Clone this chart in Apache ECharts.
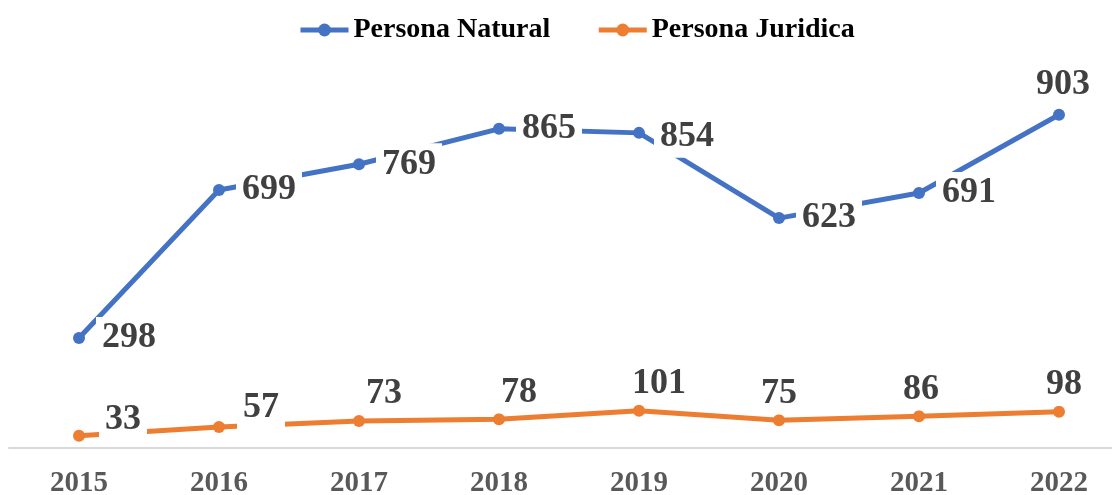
<!DOCTYPE html>
<html>
<head>
<meta charset="utf-8">
<style>html,body{margin:0;padding:0;background:#fff}#c{width:1112px;height:495px}</style>
<script src="https://cdn.jsdelivr.net/npm/echarts@6/dist/echarts.min.js"></script>
</head>
<body>
<div id="c"></div>
<script>
const years = ['2015','2016','2017','2018','2019','2020','2021','2022'];
const naturalName = 'Persona Natural';
const juridicaName = 'Persona Juridica';
const naturalValues = [298, 699, 769, 865, 854, 623, 691, 903];
const juridicaValues = [33, 57, 73, 78, 101, 75, 86, 98];

const FONT = '"Liberation Serif", "Times New Roman", serif';
const labelBase = {
  show: true, fontFamily: FONT, fontWeight: 'bold', fontSize: 36, color: '#404040',
  backgroundColor: '#fff', padding: [3, 6]
};
// label placement per point (style only)
const natLabelPos = [
  {position: 'right', distance: 11}, {position: 'right', distance: 11}, {position: 'right', distance: 11},
  {position: 'right', distance: 11}, {position: 'right', distance: 9, offset: [0, 4]}, {position: 'right', distance: 11},
  {position: 'right', distance: 11}, {position: 'top', distance: 3, offset: [4, 0]}
];
const jurLabelPos = [
  {position: 'right', distance: 4, offset: [10, -16]}, {position: 'top', distance: 0, offset: [42, 8]},
  {position: 'top', distance: 0, offset: [25, 0]}, {position: 'top', distance: 0, offset: [20, 0]},
  {position: 'top', distance: 0, offset: [20, 0]}, {position: 'top', distance: 0, offset: [0, 0]},
  {position: 'top', distance: 0, offset: [2, 0]}, {position: 'top', distance: 0, offset: [5, 0]}
];

function build(vals, pos) {
  return vals.map((v, i) => ({ value: v, label: Object.assign({}, pos[i]) }));
}

const chart = echarts.init(document.getElementById('c'), null, {renderer: 'canvas'});
chart.setOption({
  animation: false,
  color: ['#4472C4', '#ED7D31'],
  legend: {
    top: 11, left: 293, itemWidth: 48, itemHeight: 16, itemGap: 46,
    lineStyle: {width: 5},
    textStyle: {fontFamily: FONT, fontWeight: 'bold', fontSize: 28, color: '#000'},
    data: [naturalName, juridicaName]
  },
  grid: {left: 9, width: 1120, top: 79, bottom: 47, containLabel: false, outerBoundsMode: 'none'},
  xAxis: {
    type: 'category', data: years, boundaryGap: true,
    axisLine: {lineStyle: {color: '#d9d9d9', width: 2}},
    axisTick: {show: false},
    axisLabel: {fontFamily: FONT, fontWeight: 'bold', fontSize: 29, color: '#595959', margin: 21}
  },
  yAxis: {type: 'value', min: 0, max: 1000, show: false, splitLine: {show: false}},
  series: [
    {
      name: naturalName, type: 'line', data: build(naturalValues, natLabelPos),
      symbol: 'circle', symbolSize: 12, lineStyle: {width: 5}, label: labelBase, z: 3
    },
    {
      name: juridicaName, type: 'line', data: build(juridicaValues, jurLabelPos),
      symbol: 'circle', symbolSize: 12, lineStyle: {width: 5}, label: labelBase, z: 2
    }
  ]
});
</script>
</body>
</html>
